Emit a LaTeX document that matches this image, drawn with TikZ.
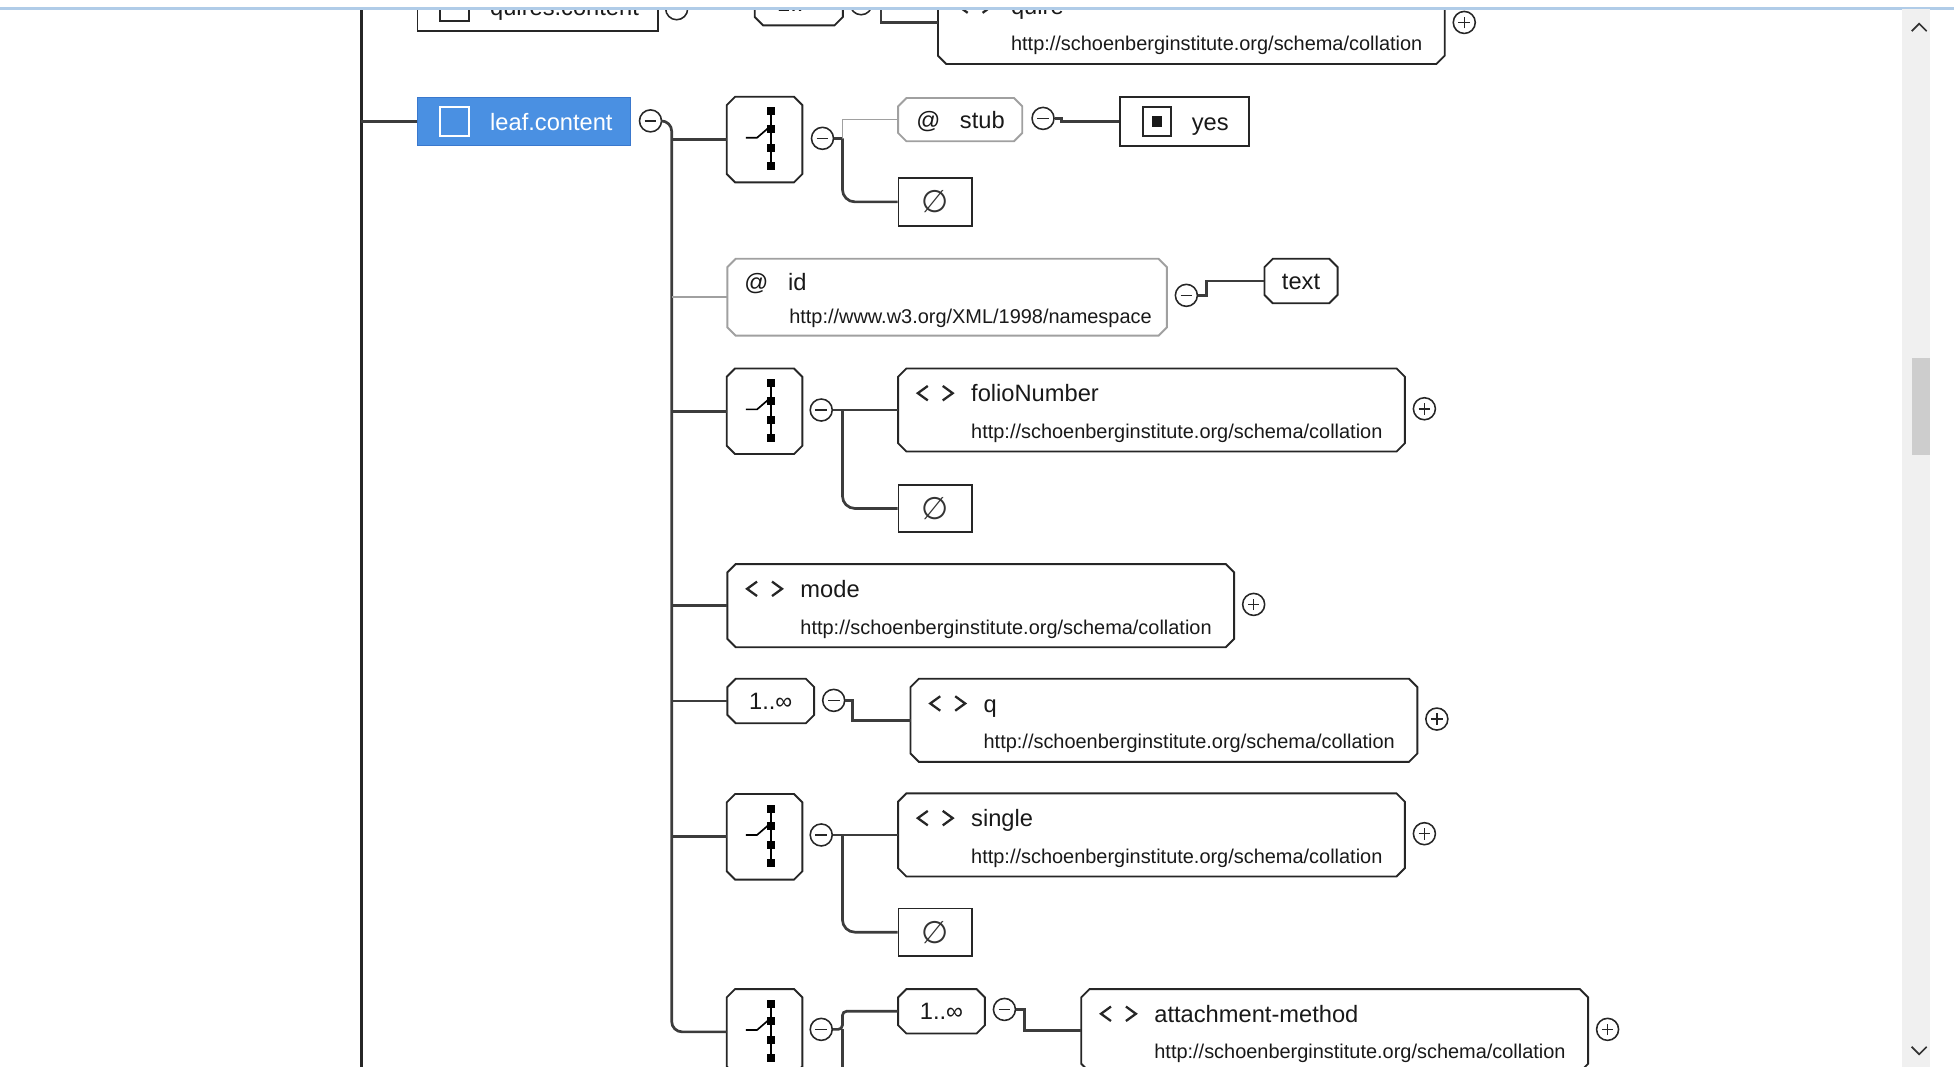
\documentclass[tikz,border=0pt]{standalone}
\usepackage{fontspec}
\setmainfont{Liberation Sans}
\newfontfamily\symfont{DejaVu Sans}
\usetikzlibrary{calc}
\definecolor{leafblue}{RGB}{74,144,226}
\definecolor{leafborder}{RGB}{58,120,205}
\definecolor{conncol}{RGB}{60,60,60}
\definecolor{attgray}{RGB}{160,160,160}
\definecolor{topblue}{RGB}{176,204,232}
\definecolor{sbtrack}{RGB}{240,240,240}
\definecolor{sbthumb}{RGB}{205,205,205}
\newcommand\lblfont{\fontsize{11.4pt}{13pt}\selectfont}
\newcommand\myurlfont{\fontsize{9.6pt}{11pt}\selectfont}
\newcommand\nilfont{\symfont\fontsize{15pt}{17pt}\selectfont}
\tikzset{
  bx/.style 2 args={rectangle, inner sep=0pt, minimum width=#1*0.6pt, minimum height=#2*0.6pt},
  plainbox/.style={draw=black!85, line width=0.9pt, fill=white},
  octline/.style={draw=black!85, line width=0.9pt, fill=white},
  octgray/.style={draw=attgray, line width=0.9pt, fill=white},
  lbl/.style={inner sep=0pt, font=\lblfont, text height=8.2pt, text depth=0pt, text=black!90},
  urltxt/.style={inner sep=0pt, font=\myurlfont, text height=6.9pt, text depth=0pt, anchor=west, text=black!90},
  niltxt/.style={inner sep=0pt, font=\nilfont, text=black!80},
  conn/.style={draw=conncol, line width=1.3pt},
  attconn/.style={draw=attgray, line width=0.7pt},
  pm/.style={circle, draw=black!85, line width=0.75pt, fill=white, minimum size=10.6pt, inner sep=0pt},
  minus/.style={pm, path picture={\draw[line width=0.75pt] ([xshift=-2.8pt]path picture bounding box.center) -- ([xshift=2.8pt]path picture bounding box.center);}},
  plus/.style={pm, path picture={\draw[line width=0.75pt] ([xshift=-2.8pt]path picture bounding box.center) -- ([xshift=2.8pt]path picture bounding box.center) ([yshift=-2.8pt]path picture bounding box.center) -- ([yshift=2.8pt]path picture bounding box.center);}},
  chev/.style={line width=1.1pt, draw=black!85},
}
\newcommand\octo[2]{\draw[#1] ([xshift=4pt]#2.north west) -- ([xshift=-4pt]#2.north east) -- ([yshift=-4pt]#2.north east) -- ([yshift=4pt]#2.south east) -- ([xshift=-4pt]#2.south east) -- ([xshift=4pt]#2.south west) -- ([yshift=4pt]#2.south west) -- ([yshift=-4pt]#2.north west) -- cycle;}
\newcommand\chevs[2]{%
  \draw[chev] (#1-34.5,#2-5.8) -- (#1-42.5,#2) -- (#1-34.5,#2+5.8);
  \draw[chev] (#1-22.5,#2-5.8) -- (#1-14.5,#2) -- (#1-22.5,#2+5.8);}
\newcommand\seqicon[1]{\begin{scope}[shift={(#1.center)}]
  \draw[line width=1pt] (5,-22.7) -- (5,21.3);
  \foreach \yy in {-22.7,-8.4,6.8,21.3} \fill (1.8,\yy-3.2) rectangle (8.2,\yy+3.2);
  \draw[line width=0.8pt] (-15,-1.5) -- (-6,-1.5) -- (5,-11);
\end{scope}}
\newcommand\chkbox[3]{\draw[#3] (#1-11.5,#2-11.5) rectangle (#1+11.5,#2+11.5);}
\begin{document}
\begin{tikzpicture}[x=0.6pt,y=-0.6pt]
\useasboundingbox (0,0) rectangle (1568,856);
\begin{scope}
\clip (0,7.5) rectangle (1526,856);
% parent spine
\coordinate (pstop) at (290,-30);
\coordinate (psbot) at (290,880);
\draw[line width=1.6pt, draw=black!85] (pstop) -- (psbot);

% ---------- top partial row ----------
\node[bx={193}{39}, plainbox] (qc) at (431.5,5.5) {};
\chkbox{364.5}{5.5}{line width=0.9pt, draw=black!85}
\node[lbl, anchor=west] (qct) at (393,5.5) {quires.content};
\node[minus] (mqc) at (543,7) {};
\draw[conn] (qc.west -| pstop) -- (qc.west);
\node[bx={70}{35}] (occT) at (641,2.5) {};
\octo{octline}{occT}
\node[lbl] (occTt) at (occT.center) {1..∞};
\node[minus] (mT) at (691,3) {};
\coordinate (xf) at (707,0);
\node[bx={406}{66}] (quire) at (956,18) {};
\octo{octline}{quire}
\chevs{811}{4.5}
\node[lbl, anchor=west] (quiret) at (811,4.5) {quire};
\node[urltxt] (quireu) at (811,35) {http://schoenberginstitute.org/schema/collation};
\node[plus] (pQu) at (1175,18) {};
\draw[conn] (mT.east) -- (mT.east -| xf) -- (quire.west -| xf) -- (quire.west);

% ---------- leaf.content ----------
\node[bx={171}{39}, fill=leafblue, draw=leafborder, line width=0.6pt] (leaf) at (420.5,97.5) {};
\chkbox{364.5}{97.5}{line width=0.9pt, draw=white}
\node[lbl, anchor=west, text=white] (leaft) at (393,97.5) {leaf.content};
\node[minus] (m0) at (522,97) {};
\draw[conn] (leaf.west -| pstop) -- (leaf.west);
\coordinate (spx) at (539,0);
\coordinate (xa) at (676,0);

% sequence A
\node[bx={60}{68}] (seqA) at (613.5,112) {};
\octo{octline}{seqA}
\seqicon{seqA}
\node[minus] (mA) at (660,111) {};
\node[bx={99}{34}] (stub) at (770.5,96) {};
\octo{octgray}{stub}
\node[lbl] (stubat) at (745,96) {@};
\node[lbl, anchor=west] (stubt) at (770,96) {stub};
\node[minus] (mS) at (837,95) {};
\node[bx={103}{39}, plainbox] (yes) at (950.5,97.5) {};
\chkbox{928.5}{97.5}{line width=0.9pt, draw=black!85}
\fill[black!90] (924.2,93.2) rectangle (932.8,101.8);
\node[lbl, anchor=west] (yest) at (956,97.5) {yes};
\node[bx={59}{38}, plainbox] (nilA) at (750.5,162) {};
\node[niltxt] (nilAt) at (nilA.center) {∅};
\coordinate (xd) at (852,0);
\draw[conn] (mA.east) -- (mA.east -| xa);
\draw[attconn] (mA.east -| xa) -- (stub.west -| xa) -- (stub.west);
\draw[conn, rounded corners=6pt] (mA.east -| xa) -- (nilA.west -| xa) -- (nilA.west);
\draw[conn] (mS.east) -- (mS.east -| xd) -- (yes.west -| xd) -- (yes.west);

% id attribute
\node[bx={352}{61}] (id) at (760,238.5) {};
\octo{octgray}{id}
\node[lbl] (idat) at (607,226) {@};
\node[lbl, anchor=west] (idt) at (632,226) {id};
\node[urltxt] (idu) at (633,254) {http://www.w3.org/XML/1998/namespace};
\node[minus] (mI) at (952,237) {};
\node[bx={58}{35}] (txt) at (1044,225.5) {};
\octo{octline}{txt}
\node[lbl] (txtt) at (txt.center) {text};
\coordinate (xe) at (968,0);
\draw[conn] (mI.east) -- (mI.east -| xe) -- (txt.west -| xe) -- (txt.west);

% sequence B
\node[bx={60}{68}] (seqB) at (613.5,330) {};
\octo{octline}{seqB}
\seqicon{seqB}
\node[minus] (mB) at (659,329) {};
\node[bx={406}{66}] (folio) at (924,329) {};
\octo{octline}{folio}
\chevs{779}{315.5}
\node[lbl, anchor=west] (foliot) at (779,315.5) {folioNumber};
\node[urltxt] (foliou) at (779,346) {http://schoenberginstitute.org/schema/collation};
\node[plus] (pF) at (1143,328) {};
\node[bx={59}{38}, plainbox] (nilB) at (750.5,408) {};
\node[niltxt] (nilBt) at (nilB.center) {∅};
\draw[conn] (mB.east) -- (folio.west);
\draw[conn, rounded corners=6pt] (mB.east -| xa) -- (nilB.west -| xa) -- (nilB.west);

% mode
\node[bx={406}{66}] (mode) at (787,486) {};
\octo{octline}{mode}
\chevs{642}{472.5}
\node[lbl, anchor=west] (modet) at (642,472.5) {mode};
\node[urltxt] (modeu) at (642,503) {http://schoenberginstitute.org/schema/collation};
\node[plus] (pM) at (1006,485) {};

% 1..inf q
\node[bx={69}{35}] (occQ) at (618.5,562.5) {};
\octo{octline}{occQ}
\node[lbl] (occQt) at (occQ.center) {1..∞};
\node[minus] (mQ) at (669,562) {};
\node[bx={406}{66}] (q) at (934,578) {};
\octo{octline}{q}
\chevs{789}{564.5}
\node[lbl, anchor=west] (qt) at (789,564.5) {q};
\node[urltxt] (qu) at (789,595) {http://schoenberginstitute.org/schema/collation};
\node[plus] (pQ) at (1153,577) {};
\coordinate (xc) at (684,0);
\draw[conn] (mQ.east) -- (mQ.east -| xc) -- (q.west -| xc) -- (q.west);

% sequence C
\node[bx={60}{68}] (seqC) at (613.5,671.5) {};
\octo{octline}{seqC}
\seqicon{seqC}
\node[minus] (mC) at (659,670) {};
\node[bx={406}{66}] (single) at (924,670) {};
\octo{octline}{single}
\chevs{779}{656.5}
\node[lbl, anchor=west] (singlet) at (779,656.5) {single};
\node[urltxt] (singleu) at (779,687) {http://schoenberginstitute.org/schema/collation};
\node[plus] (pS) at (1143,669) {};
\node[bx={59}{38}, plainbox] (nilC) at (750.5,748) {};
\node[niltxt] (nilCt) at (nilC.center) {∅};
\draw[conn] (mC.east) -- (single.west);
\draw[conn, rounded corners=6pt] (mC.east -| xa) -- (nilC.west -| xa) -- (nilC.west);

% sequence D
\node[bx={60}{68}] (seqD) at (613.5,828) {};
\octo{octline}{seqD}
\seqicon{seqD}
\node[minus] (mD) at (659,826) {};
\node[bx={69}{35}] (occA) at (755.5,811.5) {};
\octo{octline}{occA}
\node[lbl] (occAt) at (occA.center) {1..∞};
\node[minus] (mA2) at (806,810) {};
\node[bx={406}{66}] (att) at (1071,827) {};
\octo{octline}{att}
\chevs{926}{813.5}
\node[lbl, anchor=west] (attt) at (926,813.5) {attachment-method};
\node[urltxt] (attu) at (926,844) {http://schoenberginstitute.org/schema/collation};
\node[plus] (pA) at (1290,826) {};
\coordinate (xb) at (822,0);
\coordinate (dbot) at (0,880);
\draw[conn, rounded corners=2pt] (mD.east) -- (mD.east -| xa) -- (occA.west -| xa) -- (occA.west);
\draw[conn] (mD.east -| xa) -- (xa |- dbot);
\draw[conn] (mA2.east) -- (mA2.east -| xb) -- (att.west -| xb) -- (att.west);

% leaf spine and branches
\draw[conn, rounded corners=5pt] (m0.east) -- (m0.east -| spx) -- (seqD.west -| spx) -- (seqD.west);
\draw[conn] (seqA.west -| spx) -- (seqA.west);
\draw[attconn] (id.west -| spx) -- (id.west);
\draw[conn] (seqB.west -| spx) -- (seqB.west);
\draw[conn] (mode.west -| spx) -- (mode.west);
\draw[conn] (occQ.west -| spx) -- (occQ.west);
\draw[conn] (seqC.west -| spx) -- (seqC.west);
\end{scope}

% window chrome
\draw[topblue, line width=1.4pt] (0,6.5) -- (1568,6.5);
\fill[sbtrack] (1526,7.5) rectangle (1549,856);
\fill[sbthumb] (1534,287) rectangle (1549,365);
\draw[line width=0.8pt, black!80] (1534,25) -- (1540,19) -- (1546,25);
\draw[line width=0.8pt, black!80] (1534,840) -- (1540,846) -- (1546,840);
\end{tikzpicture}
\end{document}
